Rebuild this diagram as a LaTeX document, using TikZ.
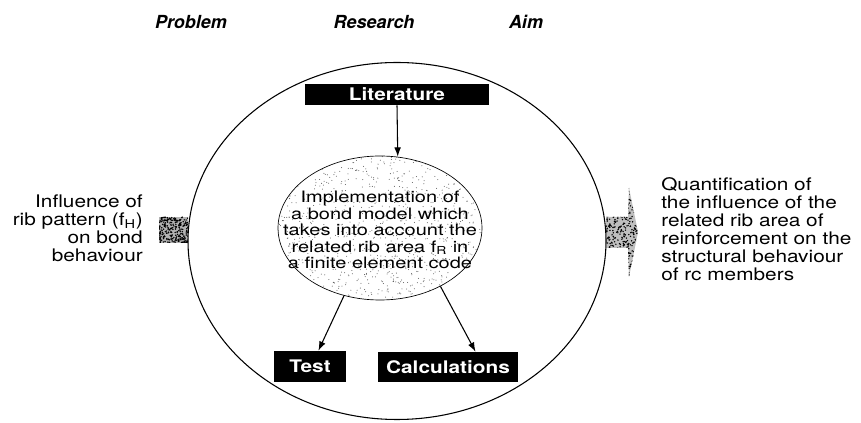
\documentclass[tikz,border=0pt]{standalone}
\usepackage{fontspec}
\setmainfont{TeX Gyre Heros}
\newfontfamily\wide{TeX Gyre Heros}[FakeStretch=1.2]
\newfontfamily\wider{TeX Gyre Heros}[FakeStretch=1.27]
\usetikzlibrary{shapes.geometric,arrows.meta}
\begin{document}
\begin{tikzpicture}[x=0.75pt,y=-0.75pt,
 arr/.style={-{Latex[length=7pt,width=5pt]}, line width=0.8pt},
 blackbox/.style={fill=black, text=white, font=\wide\bfseries\fontsize{13}{15}\selectfont, inner sep=0pt},
 titletext/.style={font=\bfseries\itshape\fontsize{13.5}{16}\selectfont},
 bodytext/.style={font=\wide\fontsize{13}{13.6}\selectfont, inner sep=0pt},
 innertext/.style={font=\wider\fontsize{11.8}{12.4}\selectfont, align=center, inner sep=0pt}]
\useasboundingbox (0,0) rectangle (861,423);

% titles
\node[titletext] (tprob) at (191,22) {Problem};
\node[titletext] (tres) at (374,22) {Research};
\node[titletext] (taim) at (526,22) {Aim};

% stippled inner ellipse background
\pgfmathsetseed{3}
\begin{scope}
 \clip (380,228) ellipse [x radius=102, y radius=72];
 \foreach \i in {1,...,1000} {
   \pgfmathsetmacro\px{278+204*rnd}
   \pgfmathsetmacro\py{156+144*rnd}
   \fill[black!65] (\px,\py) circle (0.38pt);
 }
\end{scope}

% left stippled block
\begin{scope}
 \clip (159,217) rectangle (188,243);
 \fill[black!30] (159,217) rectangle (188,243);
 \foreach \i in {1,...,260} {
   \pgfmathsetmacro\px{159+29*rnd}
   \pgfmathsetmacro\py{217+26*rnd}
   \fill[black] (\px,\py) circle (0.6pt);
 }
\end{scope}

% right block arrow
\begin{scope}
 \clip (606,217) -- (628,217) -- (629,188) -- (638,232) -- (629,277) -- (628,248) -- (606,248) -- cycle;
 \fill[black!25] (600,185) rectangle (640,280);
 \foreach \i in {1,...,420} {
   \pgfmathsetmacro\px{606+32*rnd}
   \pgfmathsetmacro\py{187+90*rnd}
   \fill[black] (\px,\py) circle (0.6pt);
 }
\end{scope}

% outer ellipse
\node[draw, ellipse, line width=0.8pt, minimum width=313.5pt, minimum height=267.75pt, inner sep=0pt] (outer) at (397,241) {};

% inner ellipse
\node[draw, ellipse, line width=0.5pt, minimum width=153pt, minimum height=108pt, inner sep=0pt] (impl) at (380,228) {};
\node[innertext] (impltext) at (380,230) {Implementation of\\a bond model which\\takes into account the\\related rib area f\textsubscript{R} in\\a finite element code};

% boxes
\node[blackbox, minimum width=138pt, minimum height=15.75pt] (lit) at (397,94.5) {Literature};
\node[blackbox, minimum width=54pt, minimum height=23.25pt] (test) at (310,366.5) {Test};
\node[blackbox, minimum width=105pt, minimum height=22.5pt] (calc) at (448,367) {Calculations};

% connectors
\draw[arr] (lit.south) -- (impl.76.5);
\draw[arr] (impl.242) -- (test.62);
\draw[arr] (impl.316) -- (calc.29);

% side texts
\node[bodytext, anchor=east, align=right] (prob) at (143,228) {Influence of\\rib pattern (f\textsubscript{H})\\on bond\\behaviour};
\node[bodytext, anchor=west, align=left] (aim) at (661,229) {Quantification of\\the influence of the\\related rib area of\\reinforcement on the\\structural behaviour\\of rc members};
\end{tikzpicture}
\end{document}
